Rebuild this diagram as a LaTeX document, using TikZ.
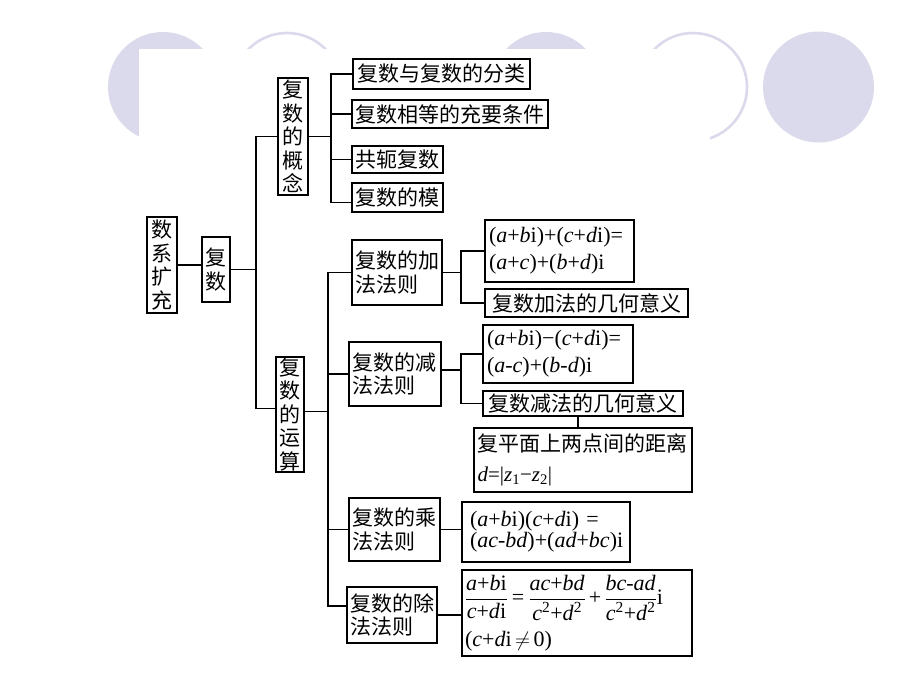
\documentclass[tikz,border=0pt]{standalone}
\usepackage{amsmath}
\usepackage{fontspec}
\setmainfont{Liberation Serif}
\newfontfamily\cjk{Noto Sans CJK SC}
\definecolor{lav}{RGB}{218,218,236}
\newcommand{\Fr}[2]{$\genfrac{}{}{0.9pt}{0}{\hbox{#1}}{\hbox{#2}}$}
\begin{document}
\begin{tikzpicture}[x=1pt,y=-1pt,
  bx/.style={draw, line width=1.4pt, inner sep=0pt, fill=white},
  cn/.style={font=\cjk\fontsize{21pt}{23.5pt}\selectfont},
  fm/.style={font=\fontsize{22pt}{27pt}\selectfont},
  ln/.style={line width=1.4pt},
  sz/.style 2 args={minimum width=#1, minimum height=#2}]
\useasboundingbox (0,0) rectangle (920,690);
\fill[white] (0,0) rectangle (920,690);
% background circles
\fill[lav] (163,87) circle (55);
\draw[lav, line width=2.6pt] (287,87) circle (54);
\fill[lav] (546,87) circle (55);
\draw[lav, line width=2.6pt] (693,87) circle (54);
\fill[lav] (818.5,87) circle (55.5);
\fill[white] (139,49) rectangle (710,690);
% nodes
\node[bx,cn,sz={30}{96},align=center] (root) at (162,265) {数\\系\\扩\\充};
\node[bx,cn,sz={28}{65},align=center] (fs) at (216,269.5) {复\\数};
\node[bx,cn,sz={30}{117},align=center] (gn) at (293,136.5) {复\\数\\的\\概\\念};
\node[bx,cn,sz={28}{115},align=center] (ys) at (290,414.5) {复\\数\\的\\运\\算};
\node[bx,cn,sz={177}{30}] (g1) at (441.5,74) {复数与复数的分类};
\node[bx,cn,sz={196}{28}] (g2) at (450,114) {复数相等的充要条件};
\node[bx,cn,sz={91}{27}] (g3) at (397.5,159.5) {共轭复数};
\node[bx,cn,sz={91}{29}] (g4) at (397.5,197.5) {复数的模};
\node[bx,cn,sz={90}{65},text width=84pt,align=left] (jia) at (397,272.5) {复数的加\\法法则};
\node[bx,cn,sz={92}{64},text width=86pt,align=left] (jian) at (395,374) {复数的减\\法法则};
\node[bx,cn,sz={91}{63},text width=85pt,align=left] (cheng) at (394.5,529.5) {复数的乘\\法法则};
\node[bx,cn,sz={90}{56},text width=84pt,align=left] (chu) at (392,615) {复数的除\\法法则};
\node[bx,fm,sz={149}{62},text width=141pt,align=left] (jf) at (559.5,251)
  {(\textit{a}+\textit{b}i)+(\textit{c}+\textit{d}i)=\\(\textit{a}+\textit{c})+(\textit{b}+\textit{d})i};
\node[bx,cn,sz={203}{28}] (jg) at (586.5,303) {复数加法的几何意义};
\node[bx,fm,sz={150}{58},text width=142pt,align=left] (jnf) at (558,354)
  {(\textit{a}+\textit{b}i)−(\textit{c}+\textit{d}i)=\\(\textit{a}-\textit{c})+(\textit{b}-\textit{d})i};
\node[bx,cn,sz={200}{25}] (jng) at (583,403.5) {复数减法的几何意义};
\node[bx,font=\fontsize{21pt}{30pt}\selectfont,sz={218}{64},text width=211pt,align=left] (dist) at (583,460)
  {{\cjk 复平面上两点间的距离}\\
   \textit{d}=|\textit{z}\textsubscript{1}−\textit{z}\textsubscript{2}|};
\node[bx,font=\fontsize{22pt}{21pt}\selectfont,sz={168}{60},text width=152pt,align=left] (cf) at (546,532)
  {\mbox{(\textit{a}+\textit{b}i)(\textit{c}+\textit{d}i) =}\\\mbox{(\textit{ac}-\textit{bd})+(\textit{ad}+\textit{bc})i}};
\node[bx,font=\fontsize{22pt}{42pt}\selectfont,sz={230}{86},text width=224pt,align=left] (chf) at (577,613)
  {\Fr{\textit{a}+\textit{b}i}{\textit{c}+\textit{d}i}\hspace{4pt}=\hspace{4pt}%
   \Fr{\textit{ac}+\textit{bd}}{\textit{c}\textsuperscript{2}+\textit{d}\textsuperscript{2}}\hspace{3pt}+\hspace{3pt}%
   \Fr{\textit{bc}-\textit{ad}}{\textit{c}\textsuperscript{2}+\textit{d}\textsuperscript{2}}i\\
   (\textit{c}+\textit{d}i$\,\neq\,$0)};
% connector coordinates
\coordinate (sp) at (256,0);
\coordinate (bg) at (331,0);
\coordinate (bo) at (328,0);
\coordinate (bj) at (461,0);
% connectors
\draw[ln] (root.east) -- (root.east -| fs.west);
\draw[ln] (fs.east) -- (fs.east -| sp);
\draw[ln] (gn.west) -- (gn.west -| sp) -- ([yshift=6pt]ys.west -| sp) -- ([yshift=6pt]ys.west);
\draw[ln] (gn.east) -- (gn.east -| bg);
\draw[ln] (g1.west) -- (g1.west -| bg) -- ([yshift=-5pt]g4.west -| bg) -- ([yshift=-5pt]g4.west);
\draw[ln] (g2.west) -- (g2.west -| bg);
\draw[ln] (g3.west) -- (g3.west -| bg);
\draw[ln] ([yshift=3pt]ys.east) -- ([yshift=3pt]ys.east -| bo);
\draw[ln] (jia.west) -- (jia.west -| bo) -- ([yshift=9pt]chu.west -| bo) -- ([yshift=9pt]chu.west);
\draw[ln] (jian.west) -- (jian.west -| bo);
\draw[ln] (cheng.west) -- (cheng.west -| bo);
\draw[ln] (jia.east) -- (jia.east -| bj);
\draw[ln] (jf.west) -- (jf.west -| bj) -- (jg.west -| bj) -- (jg.west);
\draw[ln] ([yshift=4pt]jian.east) -- ([yshift=4pt]jian.east -| bj);
\draw[ln] (jnf.west) -- (jnf.west -| bj) -- (jng.west -| bj) -- (jng.west);
\draw[ln] ([xshift=-5pt]jng.south) -- ([xshift=-5pt]jng.south |- dist.north);
\draw[ln] (cheng.east) -- (cheng.east -| cf.west);
\draw[ln] (chu.east) -- (chu.east -| chf.west);
\end{tikzpicture}
\end{document}
